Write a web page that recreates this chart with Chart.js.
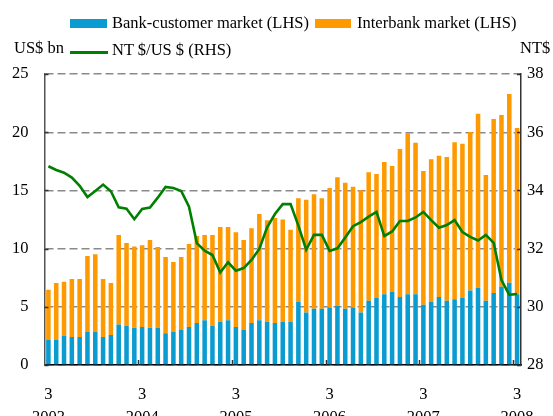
<!DOCTYPE html>
<html><head><meta charset="utf-8">
<script src="https://cdn.jsdelivr.net/npm/chart.js@4/dist/chart.umd.min.js"></script>
<style>
html,body{margin:0;padding:0;background:#fff;}
#wrap{position:relative;width:553px;height:416px;overflow:hidden;font-family:"Liberation Serif","Times New Roman",serif;color:#000;}
canvas{position:absolute;left:0;top:0;}
.t{position:absolute;font-size:16.5px;line-height:20px;white-space:nowrap;}
.sw{position:absolute;}
</style></head><body>
<div id="wrap">
<canvas id="c" width="553" height="416"></canvas>
<div class="sw" style="left:70px;top:19px;width:37px;height:9px;background:#0A9BD0"></div>
<div class="t" style="left:112px;top:13px">Bank-customer market (LHS)</div>
<div class="sw" style="left:315px;top:19px;width:36px;height:9px;background:#FF9900"></div>
<div class="t" style="left:357px;top:13px">Interbank market (LHS)</div>
<div class="t" style="left:14px;top:38px">US$ bn</div>
<div class="sw" style="left:70px;top:51px;width:38px;height:3px;background:#008000"></div>
<div class="t" style="left:112px;top:40px">NT $/US $ (RHS)</div>
<div class="t" style="left:520px;top:38px">NT$</div>
</div>
<script>
// Monthly, March 2003 – March 2008
const months = [];
for (let y = 2003; y <= 2008; y++) {
  for (let m = 1; m <= 12; m++) {
    if ((y === 2003 && m < 3) || (y === 2008 && m > 3)) continue;
    months.push(y + '-' + (m < 10 ? '0' + m : m));
  }
}
// Totals (LHS, US$ bn)
const totalTurnover = [6.47,7.04,7.16,7.39,7.39,9.36,9.51,7.39,7.04,11.17,10.48,10.17,
  10.28,10.74,10.14,9.28,8.85,9.28,10.40,11.08,11.17,11.17,11.86,11.86,
  11.40,10.74,11.74,12.97,12.43,12.63,12.51,11.63,14.32,14.20,14.66,14.32,
  15.21,16.12,15.66,15.32,15.01,16.55,16.41,17.44,17.10,18.56,19.90,19.10,
  16.67,17.67,17.98,17.87,19.13,19.01,20.02,21.59,16.32,21.13,21.48,23.28,
  20.36];
const bankCustomer = [2.15,2.15,2.49,2.41,2.41,2.84,2.84,2.41,2.58,3.49,3.38,3.21,
  3.26,3.21,3.21,2.72,2.84,3.06,3.26,3.61,3.84,3.38,3.72,3.84,
  3.26,3.04,3.61,3.84,3.72,3.61,3.72,3.72,5.41,4.50,4.84,4.84,
  4.95,5.07,4.84,4.95,4.50,5.53,5.76,6.07,6.30,5.84,6.07,6.07,
  5.18,5.41,5.84,5.53,5.64,5.76,6.41,6.64,5.53,6.19,6.73,7.07,
  6.07];
const interbank = totalTurnover.map((t, i) => +(t - bankCustomer[i]).toFixed(2));
const ntdPerUsd = [34.83,34.70,34.61,34.44,34.16,33.77,33.98,34.20,33.97,33.42,33.37,33.01,
  33.36,33.41,33.75,34.12,34.08,33.98,33.44,32.19,31.93,31.78,31.18,31.53,
  31.24,31.33,31.61,31.99,32.73,33.19,33.53,33.53,32.79,31.96,32.47,32.47,
  31.92,32.01,32.38,32.77,32.91,33.10,33.26,32.43,32.59,32.95,32.95,33.07,
  33.26,32.98,32.72,32.81,32.98,32.57,32.40,32.28,32.47,32.20,30.92,30.41,
  30.44];
const leftTicks = [0,5,10,15,20,25];
const rightTicks = [28,30,32,34,36,38];

const FONT = {family:'"Liberation Serif","Times New Roman",serif', size:16.5, lineHeight:1.4};

const tickMarks = {
  id:'tickMarks',
  afterDatasetsDraw(chart){
    const {ctx, chartArea:a, scales:{x, y, y1}} = chart;
    ctx.save();
    ctx.strokeStyle = '#333';
    ctx.lineWidth = 1.5;
    const half = (x.getPixelForValue(1) - x.getPixelForValue(0)) / 2;
    ctx.beginPath();
    months.forEach((m, i) => {
      if (m.endsWith('-03') && i > 0) {
        const px = Math.round(x.getPixelForValue(i) - half) + 0.5;
        ctx.moveTo(px, a.bottom); ctx.lineTo(px, a.bottom - 5);
      }
    });
    leftTicks.forEach(v => {
      const py = Math.round(y.getPixelForValue(v)) + 0.5;
      ctx.moveTo(a.left, py); ctx.lineTo(a.left + 4, py);
    });
    rightTicks.forEach(v => {
      const py = Math.round(y1.getPixelForValue(v)) + 0.5;
      ctx.moveTo(a.right, py); ctx.lineTo(a.right - 4, py);
    });
    ctx.stroke();
    ctx.restore();
  }
};

new Chart(document.getElementById('c'), {
  data: {
    labels: months,
    datasets: [
      {type:'line', label:'NT $/US $ (RHS)', data: ntdPerUsd, yAxisID:'y1',
       borderColor:'#008000', borderWidth:2.6, pointRadius:0, tension:0, order:0},
      {type:'bar', label:'Bank-customer market (LHS)', data: bankCustomer, yAxisID:'y',
       backgroundColor:'#0A9BD0', stack:'s', barPercentage:0.58, categoryPercentage:1, order:1},
      {type:'bar', label:'Interbank market (LHS)', data: interbank, yAxisID:'y',
       backgroundColor:'#FF9900', stack:'s', barPercentage:0.58, categoryPercentage:1, order:1}
    ]
  },
  options: {
    responsive:false, animation:false,
    layout:{padding:{top:74, left:0, right:0, bottom:0}},
    plugins:{legend:{display:false}, tooltip:{enabled:false}},
    scales:{
      x:{stacked:true, offset:true,
         grid:{display:false, drawTicks:false},
         border:{display:true, color:'#000', width:1.5},
         ticks:{autoSkip:false, maxRotation:0, padding:18, color:'#000', font:FONT,
           callback:(v, i) => months[i].endsWith('-03') ? ['3', months[i].slice(0,4)] : ''},
         afterFit:s => { s.height = 51; }
      },
      y:{stacked:true, position:'left', min:0, max:25,
         afterBuildTicks:s => { s.ticks = leftTicks.map(v => ({value:v})); },
         grid:{color:'#8a8a8a', lineWidth:1.4, drawTicks:false},
         border:{display:true, color:'#555', width:1.5, dash:[8,4]},
         ticks:{padding:16, color:'#000', font:FONT},
         afterFit:s => { s.width = 44.5; }
      },
      y1:{position:'right', min:28, max:38,
         afterBuildTicks:s => { s.ticks = rightTicks.map(v => ({value:v})); },
         grid:{drawOnChartArea:false, drawTicks:false},
         border:{display:true, color:'#333', width:1.5},
         ticks:{padding:6, color:'#000', font:FONT},
         afterFit:s => { s.width = 32; }
      }
    }
  },
  plugins:[tickMarks]
});
</script>
</body></html>
